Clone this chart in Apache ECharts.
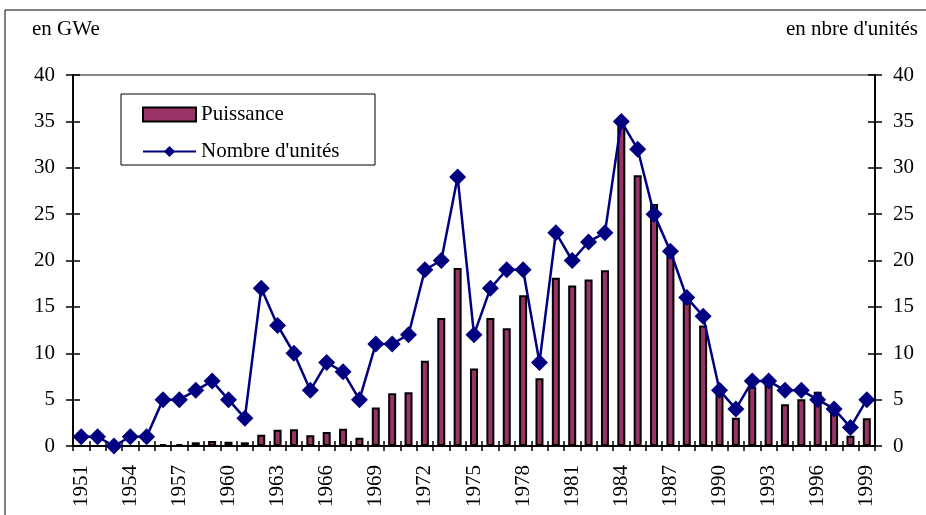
<!DOCTYPE html>
<html>
<head>
    <meta charset="utf-8">
    <title>Puissance et nombre d'unités</title>
    <script src="https://cdn.jsdelivr.net/npm/echarts@6/dist/echarts.min.js"></script>
</head>
<body style="margin:0">
    <div id="main" style="width: 926px;height:515px;"></div>
    <script type="text/javascript">
    var myChart = echarts.init(document.getElementById('main'));
    // Data
    var years = [];
    for (var y = 1951; y <= 1999; y++) years.push(String(y));
    var puissance = [0,0,0,0,0,0.2,0.2,0.4,0.55,0.45,
                     0.4,1.2,1.75,1.8,1.15,1.5,1.85,0.9,4.15,5.7,
                     5.8,9.2,13.8,19.2,8.35,13.8,12.7,16.25,7.3,18.15,
                     17.3,17.95,18.95,34.7,29.2,26.1,20.55,15.9,13.0,5.7,
                     3.05,6.4,6.8,4.5,5.05,5.85,3.7,1.1,3.0];
    var unites = [1,1,0,1,1,5,5,6,7,5,
                  3,17,13,10,6,9,8,5,11,11,
                  12,19,20,29,12,17,19,19,9,23,
                  20,22,23,35,32,25,21,16,14,6,
                  4,7,7,6,6,5,4,2,5];

    var font = "'Liberation Serif', 'Times New Roman', serif";
    var black = '#000';

    function yAx(pos, inside, labels) {
      return {
        type: 'value', position: pos, min: 0, max: 40, interval: 5,
        axisLine: { show: true, lineStyle: { color: black, width: 1.5 } },
        axisTick: { show: true, inside: inside, length: 7, lineStyle: { color: black, width: 1.5 } },
        axisLabel: { show: labels, color: black, fontFamily: font, fontSize: 21, margin: 18 },
        splitLine: { show: false }
      };
    }
    function xAx(inside, labels) {
      return {
        type: 'category', data: years, position: 'bottom',
        axisLine: { show: true, lineStyle: { color: black, width: 1.5 } },
        axisTick: { show: true, inside: inside, length: 5, interval: 0, lineStyle: { color: black, width: 1.5 } },
        axisLabel: { show: labels, interval: 2, rotate: 90, color: black, fontFamily: font, fontSize: 21, margin: 19 },
        splitLine: { show: false }
      };
    }

    var option = {
      backgroundColor: '#fff',
      animation: false,
      grid: {
        left: 73, right: 51, top: 75, bottom: 69,
        show: true, borderColor: '#888', borderWidth: 2, backgroundColor: 'transparent'
      },
      legend: {
        left: 137, top: 99, orient: 'vertical',
        itemWidth: 53, itemHeight: 14, itemGap: 16,
        textStyle: { color: black, fontFamily: font, fontSize: 21 },
        data: [{ name: 'Puissance', icon: 'rect' }, { name: "Nombre d'unités" }]
      },
      graphic: [
        { type: 'rect', shape: { x: 5, y: 10, width: 940, height: 530 },
          style: { fill: 'none', stroke: black, lineWidth: 1 }, silent: true },
        { type: 'rect', shape: { x: 121, y: 94, width: 254, height: 71 },
          style: { fill: 'none', stroke: black, lineWidth: 1 }, silent: true },
        { type: 'text', left: 32, top: 19,
          style: { text: 'en GWe', fill: black, font: '21px ' + font } },
        { type: 'text', right: 8, top: 19,
          style: { text: "en nbre d'unités", fill: black, font: '21px ' + font } }
      ],
      xAxis: [xAx(false, true), xAx(true, false)],
      yAxis: [yAx('left', false, true), yAx('left', true, false),
              yAx('right', false, true), yAx('right', true, false)],
      series: [{
        name: 'Puissance',
        type: 'bar',
        xAxisIndex: 0, yAxisIndex: 0,
        barWidth: 8,
        itemStyle: { color: '#993366', borderColor: black, borderWidth: 2 },
        data: puissance
      }, {
        name: "Nombre d'unités",
        type: 'line',
        xAxisIndex: 0, yAxisIndex: 2,
        symbol: 'diamond',
        symbolSize: 17,
        showSymbol: true,
        showAllSymbol: true,
        itemStyle: { color: '#000080' },
        lineStyle: { color: '#000080', width: 2.5 },
        data: unites
      }]
    };

    myChart.setOption(option);
    </script>
</body>
</html>
